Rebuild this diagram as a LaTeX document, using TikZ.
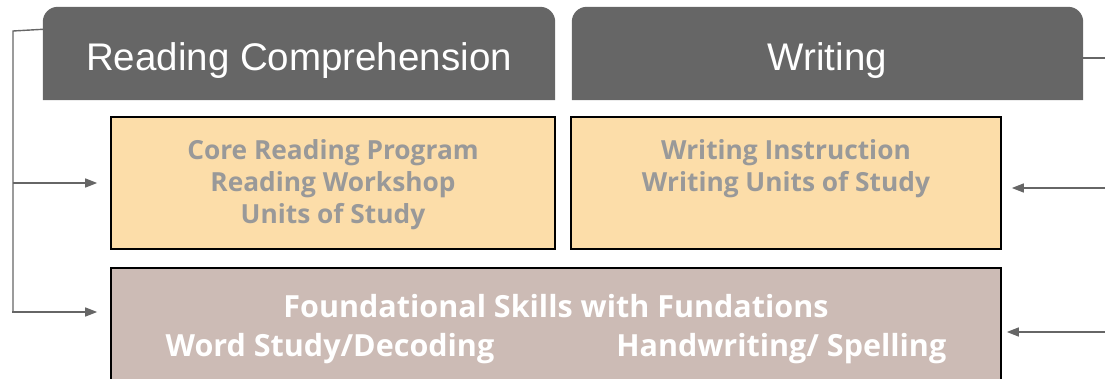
\documentclass[tikz,border=0pt]{standalone}
\usepackage{fontspec}
\setmainfont{Liberation Sans}
\newfontfamily\panelfont{Open Sans}
\usetikzlibrary{arrows.meta,positioning,backgrounds}
\definecolor{TabGray}{RGB}{102,102,102}
\definecolor{LinkGray}{RGB}{102,102,102}
\definecolor{PeachLight}{RGB}{252,221,169}
\definecolor{TaupeLight}{RGB}{204,187,181}
\definecolor{TextGray}{RGB}{153,153,153}

\begin{document}
\begin{tikzpicture}[x=1pt,y=-1pt,
    tab/.style={minimum width=512pt,minimum height=93pt,inner sep=0pt,
                text height=40pt,text depth=5.6pt,
                text=white,font=\fontsize{38.5}{44}\selectfont},
    panel/.style={draw=black,line width=1.6pt,minimum height=132pt,inner sep=0pt},
    ptext/.style={font=\panelfont\bfseries\fontsize{26.3}{32}\selectfont,
                  text=TextGray,align=center,inner sep=0pt},
    ftext/.style={font=\panelfont\bfseries\fontsize{30.5}{38.5}\selectfont,
                  text=white,align=center,inner sep=0pt},
    link/.style={LinkGray,line width=1.4pt},
    arr/.style={link,-{Triangle[length=12pt,width=9pt]}}
  ]
  \useasboundingbox (0,0) rectangle (1105,379);
  % header tabs, rounded on top only
  \node[tab] (rc) at (299,53.5) {Reading Comprehension};
  \node[tab,minimum width=511pt] (wr) at (827.5,53.5) {Writing};
  \begin{scope}[on background layer]
    \foreach \t in {rc,wr}
      \fill[TabGray,rounded corners=15pt] (\t.south west) |- (\t.north east)
        [sharp corners] -- (\t.south east) -- cycle;
  \end{scope}
  % program panels
  \node[panel,fill=PeachLight,minimum width=444pt] (cr) at (333,183) {};
  \node[panel,fill=PeachLight,minimum width=430pt] (wi) at (786,183) {};
  \node[panel,fill=TaupeLight,minimum width=890pt,minimum height=122pt] (fs) at (556,329) {};
  \node[ptext,below=23pt of cr.north] (crt)
    {Core Reading Program\\Reading Workshop\\Units of Study};
  \node[ptext,below=23pt of wi.north] (wit)
    {Writing Instruction\\Writing Units of Study};
  \node[ftext,below=27pt of fs.north] (fst)
    {Foundational Skills with Fundations\\
     Word Study/Decoding\hspace{122pt}Handwriting/ Spelling};
  % free ends of the connectors
  \coordinate (lt) at (13,31);
  \coordinate (lm) at (13,183);
  \coordinate (lb) at (12,312);
  \coordinate (rt) at (1105,58);
  \coordinate (rm) at (1105,188);
  \coordinate (rb) at (1105,332);
  % reading side bracket
  \draw[link] ([yshift=-22.5pt]rc.north west) -- (lt) -- (lt |- lb);
  \draw[arr] (lm) -- ([xshift=-13pt]cr.west);
  \draw[arr] (lb) -- ([xshift=-13pt,yshift=17pt]fs.west);
  % writing side feeds
  \draw[link] ([yshift=-4.5pt]wr.east) -- (rt);
  \draw[arr] (rm) -- ([xshift=10pt,yshift=-5pt]wi.east);
  \draw[arr] (rb) -- ([xshift=5pt,yshift=-3pt]fs.east);
\end{tikzpicture}
\end{document}
